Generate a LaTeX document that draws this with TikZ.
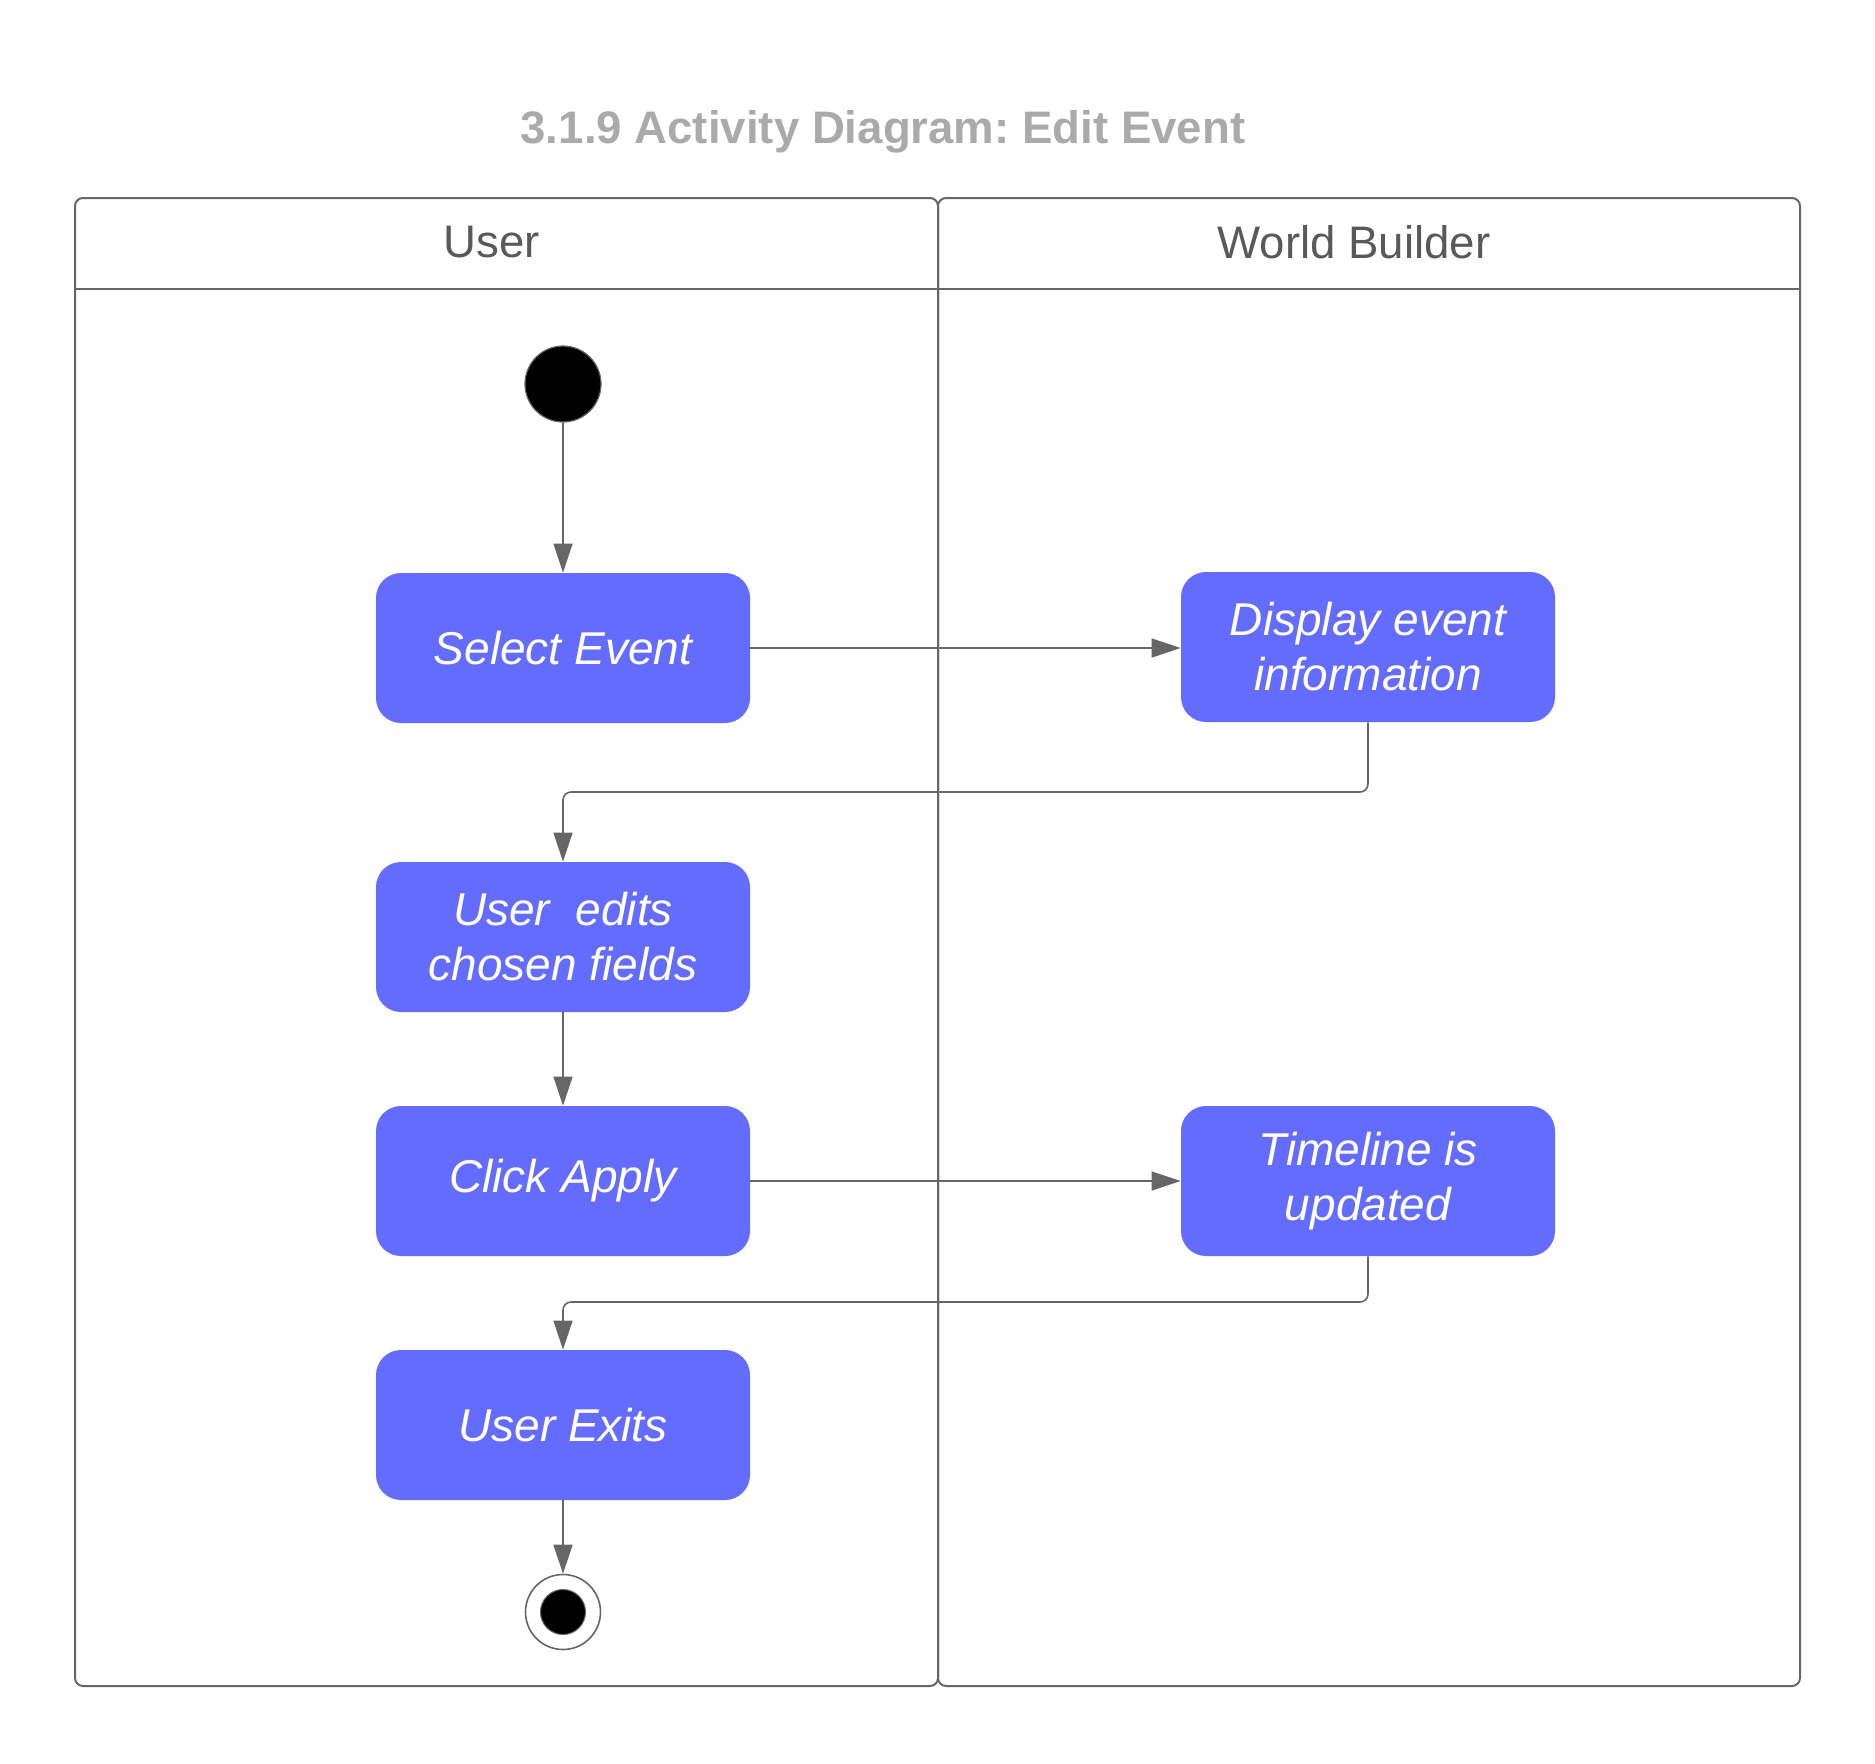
\documentclass[tikz,border=0pt]{standalone}
\usepackage{fontspec}
\setmainfont{Liberation Sans}
\frenchspacing
\usetikzlibrary{arrows.meta}
\definecolor{boxblue}{RGB}{99,108,252}
\definecolor{linegray}{RGB}{102,102,102}
\definecolor{titlegray}{RGB}{170,170,170}
\definecolor{headgray}{RGB}{89,89,89}
\begin{document}
\begin{tikzpicture}[x=0.5pt,y=-0.5pt,
  lane/.style={draw=linegray,line width=1pt,rounded corners=4pt},
  act/.style={fill=boxblue,rounded corners=12.5pt,minimum width=187pt,minimum height=75pt,
    text=white,align=center,inner sep=0pt,font=\itshape\fontsize{23}{27.5}\selectfont},
  flow/.style={draw=linegray,line width=0.8pt,-{Triangle[length=14.5pt,width=9.5pt]}},
  head/.style={text=headgray,font=\fontsize{22.8}{26}\selectfont},
]
\useasboundingbox (0,0) rectangle (1875,1763);
% title
\node[text=titlegray,font=\bfseries\fontsize{22.8}{26}\selectfont] (title) at (883,132) {3.1.9 Activity Diagram: Edit Event};
% lanes
\draw[lane] (75,198) rectangle (938,1686);
\draw[lane] (938,198) rectangle (1800,1686);
\draw[draw=linegray,line width=1pt] (75,289) -- (1800,289);
\node[head] (hu) at (492,242) {User};
\node[head] (hw) at (1354,242) {World Builder};
% start / end
\node[circle,fill=black,draw=linegray,line width=0.6pt,minimum size=38pt,inner sep=0pt] (start) at (563,384) {};
\node[circle,draw=linegray,line width=0.8pt,fill=white,minimum size=37.5pt,inner sep=0pt] (end) at (563,1612) {};
\node[circle,fill=black,draw=linegray,line width=0.5pt,minimum size=22.5pt,inner sep=0pt] (endin) at (563,1612) {};
% activities
\node[act] (sel) at (563,648) {Select Event};
\node[act] (disp) at (1368,647) {Display event\\information};
\node[act] (edit) at (563,937) {User~ edits\\chosen fields};
\node[act] (click) at (563,1181) {Click Apply};
\node[act] (time) at (1368,1181) {Timeline is\\updated};
\node[act] (exit) at (563,1425) {User Exits};
% flows
\draw[flow] (start) -- (sel);
\draw[flow] (sel) -- (sel -| disp.west);
\draw[flow,rounded corners=4pt] (disp.south) -- (1368,792) -- (563,792) -- (edit.north);
\draw[flow] (edit) -- (click);
\draw[flow] (click) -- (time);
\draw[flow,rounded corners=4pt] (time.south) -- (1368,1302) -- (563,1302) -- (exit.north);
\draw[flow] (exit) -- (end);
\end{tikzpicture}
\end{document}
